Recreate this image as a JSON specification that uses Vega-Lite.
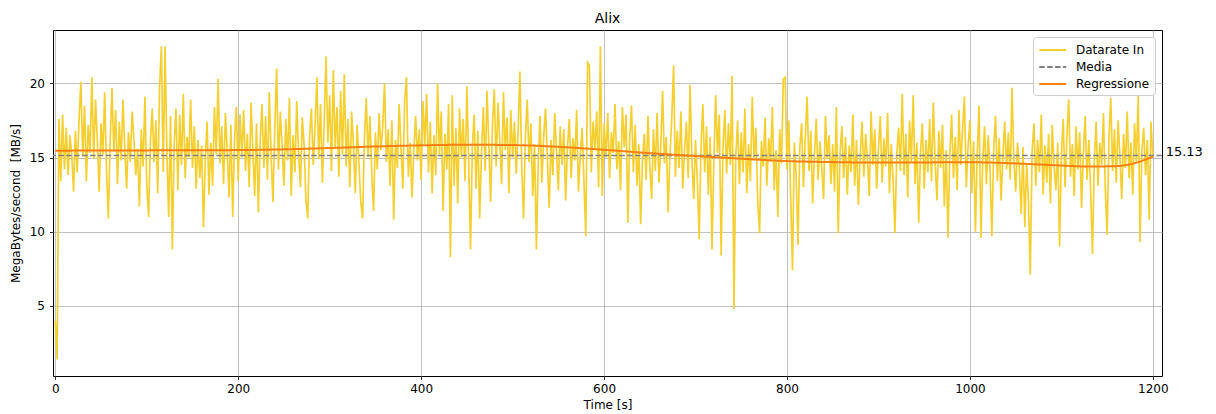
{
  "$schema": "https://vega.github.io/schema/vega-lite/v6.json",
  "autosize": {"type": "none"},
  "padding": {"left": 53, "top": 30, "right": 54, "bottom": 38},
  "width": 1109,
  "height": 346,
  "title": {"text": "Alix", "fontSize": 14, "fontWeight": "normal", "font": "DejaVu Sans", "color": "#000", "offset": 4, "anchor": "middle"},
  "datasets": {
    "rate": [
      {"s":"Datarate In","t":0,"v":4.0},{"s":"Datarate In","t":2,"v":1.4},{"s":"Datarate In","t":4,"v":17.6},{"s":"Datarate In","t":6,"v":13.4},{"s":"Datarate In","t":8,"v":17.9},{"s":"Datarate In","t":10,"v":14.2},{"s":"Datarate In","t":12,"v":17.0},{"s":"Datarate In","t":14,"v":13.8},{"s":"Datarate In","t":16,"v":16.5},{"s":"Datarate In","t":18,"v":15.2},{"s":"Datarate In","t":20,"v":12.7},{"s":"Datarate In","t":22,"v":16.8},{"s":"Datarate In","t":24,"v":14.0},{"s":"Datarate In","t":26,"v":17.6},{"s":"Datarate In","t":28,"v":20.1},{"s":"Datarate In","t":30,"v":15.1},{"s":"Datarate In","t":32,"v":18.5},{"s":"Datarate In","t":34,"v":13.4},{"s":"Datarate In","t":36,"v":17.2},{"s":"Datarate In","t":38,"v":15.3},{"s":"Datarate In","t":40,"v":20.4},{"s":"Datarate In","t":42,"v":14.9},{"s":"Datarate In","t":44,"v":18.9},{"s":"Datarate In","t":46,"v":16.1},{"s":"Datarate In","t":48,"v":12.7},
      {"s":"Datarate In","t":50,"v":17.3},{"s":"Datarate In","t":52,"v":15.2},{"s":"Datarate In","t":54,"v":19.4},{"s":"Datarate In","t":56,"v":14.1},{"s":"Datarate In","t":58,"v":10.9},{"s":"Datarate In","t":60,"v":16.0},{"s":"Datarate In","t":62,"v":19.7},{"s":"Datarate In","t":64,"v":15.4},{"s":"Datarate In","t":66,"v":18.2},{"s":"Datarate In","t":68,"v":13.2},{"s":"Datarate In","t":70,"v":17.4},{"s":"Datarate In","t":72,"v":14.8},{"s":"Datarate In","t":74,"v":18.9},{"s":"Datarate In","t":76,"v":15.5},{"s":"Datarate In","t":78,"v":12.9},{"s":"Datarate In","t":80,"v":16.7},{"s":"Datarate In","t":82,"v":14.7},{"s":"Datarate In","t":84,"v":18.1},{"s":"Datarate In","t":86,"v":16.2},{"s":"Datarate In","t":88,"v":13.8},{"s":"Datarate In","t":90,"v":15.6},{"s":"Datarate In","t":92,"v":11.7},{"s":"Datarate In","t":94,"v":16.9},{"s":"Datarate In","t":96,"v":14.4},{"s":"Datarate In","t":98,"v":19.1},
      {"s":"Datarate In","t":100,"v":13.2},{"s":"Datarate In","t":102,"v":11.0},{"s":"Datarate In","t":104,"v":16.1},{"s":"Datarate In","t":106,"v":18.3},{"s":"Datarate In","t":108,"v":14.7},{"s":"Datarate In","t":110,"v":17.5},{"s":"Datarate In","t":112,"v":12.6},{"s":"Datarate In","t":114,"v":19.7},{"s":"Datarate In","t":116,"v":22.5},{"s":"Datarate In","t":118,"v":14.0},{"s":"Datarate In","t":120,"v":22.5},{"s":"Datarate In","t":122,"v":15.4},{"s":"Datarate In","t":124,"v":11.0},{"s":"Datarate In","t":126,"v":17.8},{"s":"Datarate In","t":128,"v":8.8},{"s":"Datarate In","t":130,"v":15.9},{"s":"Datarate In","t":132,"v":18.3},{"s":"Datarate In","t":134,"v":12.8},{"s":"Datarate In","t":136,"v":17.9},{"s":"Datarate In","t":138,"v":14.5},{"s":"Datarate In","t":140,"v":19.3},{"s":"Datarate In","t":142,"v":13.6},{"s":"Datarate In","t":144,"v":16.4},{"s":"Datarate In","t":146,"v":15.0},{"s":"Datarate In","t":148,"v":18.9},
      {"s":"Datarate In","t":150,"v":14.3},{"s":"Datarate In","t":152,"v":17.1},{"s":"Datarate In","t":154,"v":12.9},{"s":"Datarate In","t":156,"v":16.2},{"s":"Datarate In","t":158,"v":13.6},{"s":"Datarate In","t":160,"v":15.8},{"s":"Datarate In","t":162,"v":10.3},{"s":"Datarate In","t":164,"v":14.9},{"s":"Datarate In","t":166,"v":17.4},{"s":"Datarate In","t":168,"v":12.5},{"s":"Datarate In","t":170,"v":16.0},{"s":"Datarate In","t":172,"v":13.1},{"s":"Datarate In","t":174,"v":18.4},{"s":"Datarate In","t":176,"v":15.2},{"s":"Datarate In","t":178,"v":20.3},{"s":"Datarate In","t":180,"v":14.6},{"s":"Datarate In","t":182,"v":17.1},{"s":"Datarate In","t":184,"v":13.2},{"s":"Datarate In","t":186,"v":18.0},{"s":"Datarate In","t":188,"v":15.4},{"s":"Datarate In","t":190,"v":12.3},{"s":"Datarate In","t":192,"v":17.2},{"s":"Datarate In","t":194,"v":11.0},{"s":"Datarate In","t":196,"v":16.3},{"s":"Datarate In","t":198,"v":18.4},
      {"s":"Datarate In","t":200,"v":13.4},{"s":"Datarate In","t":202,"v":17.9},{"s":"Datarate In","t":204,"v":15.0},{"s":"Datarate In","t":206,"v":18.2},{"s":"Datarate In","t":208,"v":14.1},{"s":"Datarate In","t":210,"v":16.6},{"s":"Datarate In","t":212,"v":13.0},{"s":"Datarate In","t":214,"v":18.7},{"s":"Datarate In","t":216,"v":15.5},{"s":"Datarate In","t":218,"v":12.4},{"s":"Datarate In","t":220,"v":17.3},{"s":"Datarate In","t":222,"v":11.3},{"s":"Datarate In","t":224,"v":16.1},{"s":"Datarate In","t":226,"v":18.6},{"s":"Datarate In","t":228,"v":14.3},{"s":"Datarate In","t":230,"v":17.8},{"s":"Datarate In","t":232,"v":13.5},{"s":"Datarate In","t":234,"v":19.4},{"s":"Datarate In","t":236,"v":15.1},{"s":"Datarate In","t":238,"v":12.0},{"s":"Datarate In","t":240,"v":17.0},{"s":"Datarate In","t":242,"v":21.0},{"s":"Datarate In","t":244,"v":14.2},{"s":"Datarate In","t":246,"v":18.1},{"s":"Datarate In","t":248,"v":15.7},
      {"s":"Datarate In","t":250,"v":13.1},{"s":"Datarate In","t":252,"v":17.6},{"s":"Datarate In","t":254,"v":14.8},{"s":"Datarate In","t":256,"v":19.0},{"s":"Datarate In","t":258,"v":12.4},{"s":"Datarate In","t":260,"v":16.5},{"s":"Datarate In","t":262,"v":14.0},{"s":"Datarate In","t":264,"v":18.8},{"s":"Datarate In","t":266,"v":15.3},{"s":"Datarate In","t":268,"v":13.0},{"s":"Datarate In","t":270,"v":17.7},{"s":"Datarate In","t":272,"v":15.9},{"s":"Datarate In","t":274,"v":12.2},{"s":"Datarate In","t":276,"v":10.9},{"s":"Datarate In","t":278,"v":16.4},{"s":"Datarate In","t":280,"v":18.3},{"s":"Datarate In","t":282,"v":14.5},{"s":"Datarate In","t":284,"v":17.1},{"s":"Datarate In","t":286,"v":20.4},{"s":"Datarate In","t":288,"v":14.9},{"s":"Datarate In","t":290,"v":18.6},{"s":"Datarate In","t":292,"v":13.3},{"s":"Datarate In","t":294,"v":17.4},{"s":"Datarate In","t":296,"v":21.8},{"s":"Datarate In","t":298,"v":16.0},
      {"s":"Datarate In","t":300,"v":19.2},{"s":"Datarate In","t":302,"v":14.1},{"s":"Datarate In","t":304,"v":20.9},{"s":"Datarate In","t":306,"v":15.6},{"s":"Datarate In","t":308,"v":18.4},{"s":"Datarate In","t":310,"v":13.7},{"s":"Datarate In","t":312,"v":19.5},{"s":"Datarate In","t":314,"v":15.2},{"s":"Datarate In","t":316,"v":20.6},{"s":"Datarate In","t":318,"v":14.4},{"s":"Datarate In","t":320,"v":17.6},{"s":"Datarate In","t":322,"v":13.0},{"s":"Datarate In","t":324,"v":18.1},{"s":"Datarate In","t":326,"v":15.8},{"s":"Datarate In","t":328,"v":12.6},{"s":"Datarate In","t":330,"v":17.2},{"s":"Datarate In","t":332,"v":14.6},{"s":"Datarate In","t":334,"v":12.0},{"s":"Datarate In","t":336,"v":10.9},{"s":"Datarate In","t":338,"v":16.3},{"s":"Datarate In","t":340,"v":19.0},{"s":"Datarate In","t":342,"v":15.0},{"s":"Datarate In","t":344,"v":17.8},{"s":"Datarate In","t":346,"v":13.9},{"s":"Datarate In","t":348,"v":11.4},
      {"s":"Datarate In","t":350,"v":16.7},{"s":"Datarate In","t":352,"v":14.2},{"s":"Datarate In","t":354,"v":18.0},{"s":"Datarate In","t":356,"v":15.5},{"s":"Datarate In","t":358,"v":17.1},{"s":"Datarate In","t":360,"v":20.0},{"s":"Datarate In","t":362,"v":14.7},{"s":"Datarate In","t":364,"v":16.9},{"s":"Datarate In","t":366,"v":13.1},{"s":"Datarate In","t":368,"v":17.5},{"s":"Datarate In","t":370,"v":10.8},{"s":"Datarate In","t":372,"v":16.2},{"s":"Datarate In","t":374,"v":14.3},{"s":"Datarate In","t":376,"v":18.6},{"s":"Datarate In","t":378,"v":15.6},{"s":"Datarate In","t":380,"v":12.9},{"s":"Datarate In","t":382,"v":18.9},{"s":"Datarate In","t":384,"v":20.4},{"s":"Datarate In","t":386,"v":13.7},{"s":"Datarate In","t":388,"v":16.0},{"s":"Datarate In","t":390,"v":12.3},{"s":"Datarate In","t":392,"v":15.4},{"s":"Datarate In","t":394,"v":17.8},{"s":"Datarate In","t":396,"v":14.8},{"s":"Datarate In","t":398,"v":16.9},
      {"s":"Datarate In","t":400,"v":13.5},{"s":"Datarate In","t":402,"v":18.8},{"s":"Datarate In","t":404,"v":15.9},{"s":"Datarate In","t":406,"v":19.3},{"s":"Datarate In","t":408,"v":14.0},{"s":"Datarate In","t":410,"v":17.4},{"s":"Datarate In","t":412,"v":12.6},{"s":"Datarate In","t":414,"v":16.5},{"s":"Datarate In","t":416,"v":13.8},{"s":"Datarate In","t":418,"v":20.0},{"s":"Datarate In","t":420,"v":15.2},{"s":"Datarate In","t":422,"v":18.1},{"s":"Datarate In","t":424,"v":11.4},{"s":"Datarate In","t":426,"v":16.6},{"s":"Datarate In","t":428,"v":14.2},{"s":"Datarate In","t":430,"v":18.6},{"s":"Datarate In","t":432,"v":8.3},{"s":"Datarate In","t":434,"v":19.2},{"s":"Datarate In","t":436,"v":13.1},{"s":"Datarate In","t":438,"v":17.0},{"s":"Datarate In","t":440,"v":11.9},{"s":"Datarate In","t":442,"v":18.3},{"s":"Datarate In","t":444,"v":15.0},{"s":"Datarate In","t":446,"v":17.6},{"s":"Datarate In","t":448,"v":13.4},
      {"s":"Datarate In","t":450,"v":19.8},{"s":"Datarate In","t":452,"v":14.6},{"s":"Datarate In","t":454,"v":8.8},{"s":"Datarate In","t":456,"v":15.7},{"s":"Datarate In","t":458,"v":17.9},{"s":"Datarate In","t":460,"v":12.9},{"s":"Datarate In","t":462,"v":16.8},{"s":"Datarate In","t":464,"v":10.9},{"s":"Datarate In","t":466,"v":15.3},{"s":"Datarate In","t":468,"v":18.4},{"s":"Datarate In","t":470,"v":14.1},{"s":"Datarate In","t":472,"v":19.5},{"s":"Datarate In","t":474,"v":15.8},{"s":"Datarate In","t":476,"v":12.0},{"s":"Datarate In","t":478,"v":17.3},{"s":"Datarate In","t":480,"v":19.6},{"s":"Datarate In","t":482,"v":14.4},{"s":"Datarate In","t":484,"v":18.7},{"s":"Datarate In","t":486,"v":16.1},{"s":"Datarate In","t":488,"v":13.2},{"s":"Datarate In","t":490,"v":19.4},{"s":"Datarate In","t":492,"v":15.5},{"s":"Datarate In","t":494,"v":17.7},{"s":"Datarate In","t":496,"v":12.6},{"s":"Datarate In","t":498,"v":18.2},
      {"s":"Datarate In","t":500,"v":15.0},{"s":"Datarate In","t":502,"v":17.4},{"s":"Datarate In","t":504,"v":13.9},{"s":"Datarate In","t":506,"v":16.8},{"s":"Datarate In","t":508,"v":20.8},{"s":"Datarate In","t":510,"v":14.3},{"s":"Datarate In","t":512,"v":10.9},{"s":"Datarate In","t":514,"v":16.5},{"s":"Datarate In","t":516,"v":18.9},{"s":"Datarate In","t":518,"v":14.7},{"s":"Datarate In","t":520,"v":17.3},{"s":"Datarate In","t":522,"v":12.4},{"s":"Datarate In","t":524,"v":15.9},{"s":"Datarate In","t":526,"v":8.8},{"s":"Datarate In","t":528,"v":14.6},{"s":"Datarate In","t":530,"v":17.8},{"s":"Datarate In","t":532,"v":13.3},{"s":"Datarate In","t":534,"v":16.4},{"s":"Datarate In","t":536,"v":18.3},{"s":"Datarate In","t":538,"v":14.9},{"s":"Datarate In","t":540,"v":11.6},{"s":"Datarate In","t":542,"v":16.2},{"s":"Datarate In","t":544,"v":13.8},{"s":"Datarate In","t":546,"v":18.0},{"s":"Datarate In","t":548,"v":15.4},
      {"s":"Datarate In","t":550,"v":12.8},{"s":"Datarate In","t":552,"v":17.1},{"s":"Datarate In","t":554,"v":14.5},{"s":"Datarate In","t":556,"v":16.9},{"s":"Datarate In","t":558,"v":12.1},{"s":"Datarate In","t":560,"v":15.7},{"s":"Datarate In","t":562,"v":17.6},{"s":"Datarate In","t":564,"v":13.6},{"s":"Datarate In","t":566,"v":16.3},{"s":"Datarate In","t":568,"v":14.8},{"s":"Datarate In","t":570,"v":18.2},{"s":"Datarate In","t":572,"v":12.7},{"s":"Datarate In","t":574,"v":15.2},{"s":"Datarate In","t":576,"v":17.0},{"s":"Datarate In","t":578,"v":13.4},{"s":"Datarate In","t":580,"v":9.7},{"s":"Datarate In","t":582,"v":21.4},{"s":"Datarate In","t":584,"v":21.2},{"s":"Datarate In","t":586,"v":14.0},{"s":"Datarate In","t":588,"v":17.4},{"s":"Datarate In","t":590,"v":15.6},{"s":"Datarate In","t":592,"v":18.1},{"s":"Datarate In","t":594,"v":13.0},{"s":"Datarate In","t":596,"v":22.5},{"s":"Datarate In","t":598,"v":12.4},
      {"s":"Datarate In","t":600,"v":17.3},{"s":"Datarate In","t":602,"v":15.0},{"s":"Datarate In","t":604,"v":18.0},{"s":"Datarate In","t":606,"v":13.6},{"s":"Datarate In","t":608,"v":16.7},{"s":"Datarate In","t":610,"v":15.3},{"s":"Datarate In","t":612,"v":18.6},{"s":"Datarate In","t":614,"v":14.2},{"s":"Datarate In","t":616,"v":16.1},{"s":"Datarate In","t":618,"v":12.8},{"s":"Datarate In","t":620,"v":18.4},{"s":"Datarate In","t":622,"v":15.7},{"s":"Datarate In","t":624,"v":17.9},{"s":"Datarate In","t":626,"v":10.6},{"s":"Datarate In","t":628,"v":16.3},{"s":"Datarate In","t":630,"v":18.5},{"s":"Datarate In","t":632,"v":14.0},{"s":"Datarate In","t":634,"v":17.2},{"s":"Datarate In","t":636,"v":13.1},{"s":"Datarate In","t":638,"v":15.9},{"s":"Datarate In","t":640,"v":10.5},{"s":"Datarate In","t":642,"v":14.8},{"s":"Datarate In","t":644,"v":16.6},{"s":"Datarate In","t":646,"v":13.5},{"s":"Datarate In","t":648,"v":17.8},
      {"s":"Datarate In","t":650,"v":14.4},{"s":"Datarate In","t":652,"v":12.2},{"s":"Datarate In","t":654,"v":16.9},{"s":"Datarate In","t":656,"v":14.1},{"s":"Datarate In","t":658,"v":18.0},{"s":"Datarate In","t":660,"v":13.3},{"s":"Datarate In","t":662,"v":15.8},{"s":"Datarate In","t":664,"v":19.5},{"s":"Datarate In","t":666,"v":14.6},{"s":"Datarate In","t":668,"v":16.4},{"s":"Datarate In","t":670,"v":11.3},{"s":"Datarate In","t":672,"v":15.1},{"s":"Datarate In","t":674,"v":17.6},{"s":"Datarate In","t":676,"v":21.2},{"s":"Datarate In","t":678,"v":13.7},{"s":"Datarate In","t":680,"v":16.8},{"s":"Datarate In","t":682,"v":14.3},{"s":"Datarate In","t":684,"v":18.1},{"s":"Datarate In","t":686,"v":12.9},{"s":"Datarate In","t":688,"v":15.5},{"s":"Datarate In","t":690,"v":17.4},{"s":"Datarate In","t":692,"v":13.6},{"s":"Datarate In","t":694,"v":19.9},{"s":"Datarate In","t":696,"v":14.9},{"s":"Datarate In","t":698,"v":12.2},
      {"s":"Datarate In","t":700,"v":16.2},{"s":"Datarate In","t":702,"v":13.4},{"s":"Datarate In","t":704,"v":9.5},{"s":"Datarate In","t":706,"v":15.8},{"s":"Datarate In","t":708,"v":18.6},{"s":"Datarate In","t":710,"v":14.0},{"s":"Datarate In","t":712,"v":17.1},{"s":"Datarate In","t":714,"v":12.5},{"s":"Datarate In","t":716,"v":16.4},{"s":"Datarate In","t":718,"v":8.8},{"s":"Datarate In","t":720,"v":14.7},{"s":"Datarate In","t":722,"v":19.2},{"s":"Datarate In","t":724,"v":15.3},{"s":"Datarate In","t":726,"v":17.9},{"s":"Datarate In","t":728,"v":8.4},{"s":"Datarate In","t":730,"v":15.6},{"s":"Datarate In","t":732,"v":18.2},{"s":"Datarate In","t":734,"v":13.9},{"s":"Datarate In","t":736,"v":17.3},{"s":"Datarate In","t":738,"v":14.5},{"s":"Datarate In","t":740,"v":20.5},{"s":"Datarate In","t":742,"v":4.8},{"s":"Datarate In","t":744,"v":15.1},{"s":"Datarate In","t":746,"v":17.5},{"s":"Datarate In","t":748,"v":13.2},
      {"s":"Datarate In","t":750,"v":16.7},{"s":"Datarate In","t":752,"v":14.0},{"s":"Datarate In","t":754,"v":18.3},{"s":"Datarate In","t":756,"v":12.6},{"s":"Datarate In","t":758,"v":15.9},{"s":"Datarate In","t":760,"v":13.4},{"s":"Datarate In","t":762,"v":19.1},{"s":"Datarate In","t":764,"v":14.8},{"s":"Datarate In","t":766,"v":17.0},{"s":"Datarate In","t":768,"v":12.0},{"s":"Datarate In","t":770,"v":9.9},{"s":"Datarate In","t":772,"v":16.1},{"s":"Datarate In","t":774,"v":14.4},{"s":"Datarate In","t":776,"v":17.7},{"s":"Datarate In","t":778,"v":13.1},{"s":"Datarate In","t":780,"v":16.3},{"s":"Datarate In","t":782,"v":14.7},{"s":"Datarate In","t":784,"v":18.4},{"s":"Datarate In","t":786,"v":12.8},{"s":"Datarate In","t":788,"v":15.5},{"s":"Datarate In","t":790,"v":11.0},{"s":"Datarate In","t":792,"v":16.9},{"s":"Datarate In","t":794,"v":14.6},{"s":"Datarate In","t":796,"v":20.3},{"s":"Datarate In","t":798,"v":20.4},
      {"s":"Datarate In","t":800,"v":14.2},{"s":"Datarate In","t":802,"v":17.5},{"s":"Datarate In","t":804,"v":12.4},{"s":"Datarate In","t":806,"v":7.4},{"s":"Datarate In","t":808,"v":16.0},{"s":"Datarate In","t":810,"v":13.8},{"s":"Datarate In","t":812,"v":9.1},{"s":"Datarate In","t":814,"v":15.7},{"s":"Datarate In","t":816,"v":17.3},{"s":"Datarate In","t":818,"v":13.0},{"s":"Datarate In","t":820,"v":16.4},{"s":"Datarate In","t":822,"v":19.1},{"s":"Datarate In","t":824,"v":14.1},{"s":"Datarate In","t":826,"v":16.8},{"s":"Datarate In","t":828,"v":11.9},{"s":"Datarate In","t":830,"v":15.2},{"s":"Datarate In","t":832,"v":17.6},{"s":"Datarate In","t":834,"v":13.5},{"s":"Datarate In","t":836,"v":16.1},{"s":"Datarate In","t":838,"v":14.3},{"s":"Datarate In","t":840,"v":12.2},{"s":"Datarate In","t":842,"v":17.8},{"s":"Datarate In","t":844,"v":14.9},{"s":"Datarate In","t":846,"v":16.5},{"s":"Datarate In","t":848,"v":13.2},
      {"s":"Datarate In","t":850,"v":15.9},{"s":"Datarate In","t":852,"v":12.7},{"s":"Datarate In","t":854,"v":18.4},{"s":"Datarate In","t":856,"v":9.9},{"s":"Datarate In","t":858,"v":15.3},{"s":"Datarate In","t":860,"v":17.1},{"s":"Datarate In","t":862,"v":13.6},{"s":"Datarate In","t":864,"v":16.4},{"s":"Datarate In","t":866,"v":12.5},{"s":"Datarate In","t":868,"v":15.8},{"s":"Datarate In","t":870,"v":14.0},{"s":"Datarate In","t":872,"v":17.9},{"s":"Datarate In","t":874,"v":13.1},{"s":"Datarate In","t":876,"v":16.2},{"s":"Datarate In","t":878,"v":11.8},{"s":"Datarate In","t":880,"v":15.0},{"s":"Datarate In","t":882,"v":17.4},{"s":"Datarate In","t":884,"v":13.7},{"s":"Datarate In","t":886,"v":16.6},{"s":"Datarate In","t":888,"v":14.8},{"s":"Datarate In","t":890,"v":12.4},{"s":"Datarate In","t":892,"v":18.1},{"s":"Datarate In","t":894,"v":14.5},{"s":"Datarate In","t":896,"v":16.9},{"s":"Datarate In","t":898,"v":12.9},
      {"s":"Datarate In","t":900,"v":15.6},{"s":"Datarate In","t":902,"v":17.8},{"s":"Datarate In","t":904,"v":13.3},{"s":"Datarate In","t":906,"v":16.3},{"s":"Datarate In","t":908,"v":14.4},{"s":"Datarate In","t":910,"v":18.0},{"s":"Datarate In","t":912,"v":12.6},{"s":"Datarate In","t":914,"v":15.9},{"s":"Datarate In","t":916,"v":13.5},{"s":"Datarate In","t":918,"v":9.9},{"s":"Datarate In","t":920,"v":15.2},{"s":"Datarate In","t":922,"v":17.0},{"s":"Datarate In","t":924,"v":14.1},{"s":"Datarate In","t":926,"v":19.3},{"s":"Datarate In","t":928,"v":13.8},{"s":"Datarate In","t":930,"v":16.6},{"s":"Datarate In","t":932,"v":12.3},{"s":"Datarate In","t":934,"v":17.5},{"s":"Datarate In","t":936,"v":14.7},{"s":"Datarate In","t":938,"v":19.2},{"s":"Datarate In","t":940,"v":13.2},{"s":"Datarate In","t":942,"v":16.0},{"s":"Datarate In","t":944,"v":10.6},{"s":"Datarate In","t":946,"v":15.4},{"s":"Datarate In","t":948,"v":17.3},
      {"s":"Datarate In","t":950,"v":12.9},{"s":"Datarate In","t":952,"v":16.2},{"s":"Datarate In","t":954,"v":14.0},{"s":"Datarate In","t":956,"v":17.6},{"s":"Datarate In","t":958,"v":13.4},{"s":"Datarate In","t":960,"v":18.7},{"s":"Datarate In","t":962,"v":14.6},{"s":"Datarate In","t":964,"v":12.1},{"s":"Datarate In","t":966,"v":16.8},{"s":"Datarate In","t":968,"v":14.3},{"s":"Datarate In","t":970,"v":17.2},{"s":"Datarate In","t":972,"v":11.7},{"s":"Datarate In","t":974,"v":15.5},{"s":"Datarate In","t":976,"v":9.6},{"s":"Datarate In","t":978,"v":15.1},{"s":"Datarate In","t":980,"v":17.9},{"s":"Datarate In","t":982,"v":13.6},{"s":"Datarate In","t":984,"v":16.4},{"s":"Datarate In","t":986,"v":12.8},{"s":"Datarate In","t":988,"v":18.2},{"s":"Datarate In","t":990,"v":14.5},{"s":"Datarate In","t":992,"v":16.9},{"s":"Datarate In","t":994,"v":19.1},{"s":"Datarate In","t":996,"v":13.0},{"s":"Datarate In","t":998,"v":15.8},
      {"s":"Datarate In","t":1000,"v":17.5},{"s":"Datarate In","t":1002,"v":12.6},{"s":"Datarate In","t":1004,"v":16.1},{"s":"Datarate In","t":1006,"v":10.0},{"s":"Datarate In","t":1008,"v":15.3},{"s":"Datarate In","t":1010,"v":18.5},{"s":"Datarate In","t":1012,"v":9.6},{"s":"Datarate In","t":1014,"v":14.8},{"s":"Datarate In","t":1016,"v":17.1},{"s":"Datarate In","t":1018,"v":13.2},{"s":"Datarate In","t":1020,"v":16.5},{"s":"Datarate In","t":1022,"v":14.1},{"s":"Datarate In","t":1024,"v":9.7},{"s":"Datarate In","t":1026,"v":15.6},{"s":"Datarate In","t":1028,"v":17.8},{"s":"Datarate In","t":1030,"v":13.4},{"s":"Datarate In","t":1032,"v":16.3},{"s":"Datarate In","t":1034,"v":12.1},{"s":"Datarate In","t":1036,"v":15.0},{"s":"Datarate In","t":1038,"v":17.4},{"s":"Datarate In","t":1040,"v":14.2},{"s":"Datarate In","t":1042,"v":16.7},{"s":"Datarate In","t":1044,"v":13.5},{"s":"Datarate In","t":1046,"v":19.7},{"s":"Datarate In","t":1048,"v":14.9},
      {"s":"Datarate In","t":1050,"v":12.7},{"s":"Datarate In","t":1052,"v":16.0},{"s":"Datarate In","t":1054,"v":14.3},{"s":"Datarate In","t":1056,"v":11.2},{"s":"Datarate In","t":1058,"v":15.7},{"s":"Datarate In","t":1060,"v":10.3},{"s":"Datarate In","t":1062,"v":14.6},{"s":"Datarate In","t":1064,"v":12.0},{"s":"Datarate In","t":1066,"v":7.1},{"s":"Datarate In","t":1068,"v":15.4},{"s":"Datarate In","t":1070,"v":17.3},{"s":"Datarate In","t":1072,"v":13.1},{"s":"Datarate In","t":1074,"v":16.2},{"s":"Datarate In","t":1076,"v":14.0},{"s":"Datarate In","t":1078,"v":17.9},{"s":"Datarate In","t":1080,"v":12.5},{"s":"Datarate In","t":1082,"v":15.8},{"s":"Datarate In","t":1084,"v":13.3},{"s":"Datarate In","t":1086,"v":16.6},{"s":"Datarate In","t":1088,"v":11.9},{"s":"Datarate In","t":1090,"v":17.2},{"s":"Datarate In","t":1092,"v":14.4},{"s":"Datarate In","t":1094,"v":12.8},{"s":"Datarate In","t":1096,"v":16.0},{"s":"Datarate In","t":1098,"v":9.0},
      {"s":"Datarate In","t":1100,"v":15.2},{"s":"Datarate In","t":1102,"v":17.6},{"s":"Datarate In","t":1104,"v":13.0},{"s":"Datarate In","t":1106,"v":16.4},{"s":"Datarate In","t":1108,"v":18.9},{"s":"Datarate In","t":1110,"v":13.7},{"s":"Datarate In","t":1112,"v":15.9},{"s":"Datarate In","t":1114,"v":12.4},{"s":"Datarate In","t":1116,"v":17.1},{"s":"Datarate In","t":1118,"v":14.2},{"s":"Datarate In","t":1120,"v":16.7},{"s":"Datarate In","t":1122,"v":11.6},{"s":"Datarate In","t":1124,"v":15.3},{"s":"Datarate In","t":1126,"v":17.8},{"s":"Datarate In","t":1128,"v":13.5},{"s":"Datarate In","t":1130,"v":16.2},{"s":"Datarate In","t":1132,"v":12.7},{"s":"Datarate In","t":1134,"v":8.5},{"s":"Datarate In","t":1136,"v":14.8},{"s":"Datarate In","t":1138,"v":17.4},{"s":"Datarate In","t":1140,"v":13.1},{"s":"Datarate In","t":1142,"v":16.0},{"s":"Datarate In","t":1144,"v":14.5},{"s":"Datarate In","t":1146,"v":18.0},{"s":"Datarate In","t":1148,"v":12.9},
      {"s":"Datarate In","t":1150,"v":9.8},{"s":"Datarate In","t":1152,"v":16.3},{"s":"Datarate In","t":1154,"v":19.0},{"s":"Datarate In","t":1156,"v":14.1},{"s":"Datarate In","t":1158,"v":16.9},{"s":"Datarate In","t":1160,"v":13.3},{"s":"Datarate In","t":1162,"v":17.5},{"s":"Datarate In","t":1164,"v":15.0},{"s":"Datarate In","t":1166,"v":12.2},{"s":"Datarate In","t":1168,"v":16.6},{"s":"Datarate In","t":1170,"v":14.3},{"s":"Datarate In","t":1172,"v":18.1},{"s":"Datarate In","t":1174,"v":13.6},{"s":"Datarate In","t":1176,"v":16.0},{"s":"Datarate In","t":1178,"v":12.5},{"s":"Datarate In","t":1180,"v":17.3},{"s":"Datarate In","t":1182,"v":14.7},{"s":"Datarate In","t":1184,"v":19.2},{"s":"Datarate In","t":1186,"v":9.3},{"s":"Datarate In","t":1188,"v":15.4},{"s":"Datarate In","t":1190,"v":17.0},{"s":"Datarate In","t":1192,"v":13.8},{"s":"Datarate In","t":1194,"v":16.2},{"s":"Datarate In","t":1196,"v":10.8},{"s":"Datarate In","t":1198,"v":17.4},{"s":"Datarate In","t":1200,"v":15.0}
    ],
    "mean": [{"s": "Media", "v": 15.13, "label": "15.13", "tx": 1214}],
    "reg": [
      {"s":"Regressione","t":0,"v":15.46},{"s":"Regressione","t":100,"v":15.48},{"s":"Regressione","t":200,"v":15.5},{"s":"Regressione","t":250,"v":15.55},{"s":"Regressione","t":300,"v":15.64},{"s":"Regressione","t":350,"v":15.74},{"s":"Regressione","t":400,"v":15.82},{"s":"Regressione","t":450,"v":15.86},{"s":"Regressione","t":500,"v":15.84},{"s":"Regressione","t":550,"v":15.72},{"s":"Regressione","t":600,"v":15.52},{"s":"Regressione","t":650,"v":15.29},{"s":"Regressione","t":700,"v":15.1},{"s":"Regressione","t":750,"v":14.92},{"s":"Regressione","t":800,"v":14.76},{"s":"Regressione","t":850,"v":14.69},{"s":"Regressione","t":900,"v":14.66},{"s":"Regressione","t":950,"v":14.67},{"s":"Regressione","t":1000,"v":14.68},{"s":"Regressione","t":1050,"v":14.6},{"s":"Regressione","t":1100,"v":14.46},{"s":"Regressione","t":1130,"v":14.39},{"s":"Regressione","t":1160,"v":14.42},{"s":"Regressione","t":1180,"v":14.62},{"s":"Regressione","t":1200,"v":15.06}
    ]
  },
  "encoding": {
    "x": {"field": "t", "type": "quantitative", "title": "Time [s]",
      "scale": {"domain": [-2.5, 1210], "nice": false, "zero": false},
      "axis": {"values": [0, 200, 400, 600, 800, 1000, 1200], "format": "d", "titlePadding": 5}},
    "y": {"field": "v", "type": "quantitative", "title": "MegaBytes/second\u00a0 [MB/s]",
      "scale": {"domain": [0.28, 23.59], "nice": false, "zero": false},
      "axis": {"values": [5, 10, 15, 20], "labelPadding": 5, "titlePadding": 7}}
  },
  "layer": [
    {
      "data": {"name": "rate"},
      "mark": {"type": "line", "strokeWidth": 1.7},
      "encoding": {
        "color": {"field": "s", "type": "nominal", "title": null,
          "scale": {"domain": ["Datarate In", "Media", "Regressione"], "range": ["#f5cf2f", "#808080", "#ff7f0e"]}},
        "strokeDash": {"field": "s", "type": "nominal", "title": null,
          "scale": {"domain": ["Datarate In", "Media", "Regressione"], "range": [[1, 0], [5.5, 2.4], [1, 0]]}}
      }
    },
    {
      "data": {"name": "mean"},
      "mark": {"type": "rule", "strokeWidth": 1.5},
      "encoding": {
        "x": null,
        "color": {"field": "s", "type": "nominal", "title": null},
        "strokeDash": {"field": "s", "type": "nominal", "title": null}
      }
    },
    {
      "data": {"name": "reg"},
      "mark": {"type": "line", "strokeWidth": 2, "interpolate": "monotone"},
      "encoding": {
        "color": {"field": "s", "type": "nominal", "title": null},
        "strokeDash": {"field": "s", "type": "nominal", "title": null}
      }
    },
    {
      "data": {"name": "mean"},
      "mark": {"type": "text", "align": "left", "baseline": "middle", "fontSize": 13, "font": "DejaVu Sans", "fill": "#000", "dy": -4, "clip": false},
      "encoding": {
        "x": {"field": "tx", "type": "quantitative"},
        "text": {"field": "label", "type": "nominal"}
      }
    }
  ],
  "config": {
    "font": "DejaVu Sans",
    "view": {"stroke": "#000", "strokeWidth": 1},
    "axis": {
      "grid": true, "gridColor": "#b0b0b0", "gridWidth": 0.8, "domain": false,
      "tickColor": "#000", "tickSize": 3.5, "tickWidth": 0.8,
      "labelFont": "DejaVu Sans", "labelFontSize": 12, "labelColor": "#000", "labelPadding": 3.5,
      "titleFont": "DejaVu Sans", "titleFontSize": 12, "titleFontWeight": "normal", "titleColor": "#000"
    },
    "legend": {
      "orient": "top-right", "offset": 7, "padding": 5, "rowPadding": 3,
      "fillColor": "rgba(255,255,255,0.8)", "strokeColor": "#cccccc", "cornerRadius": 3,
      "symbolType": "M-1,0H3", "symbolSize": 182, "symbolStrokeWidth": 1.8,
      "labelFont": "DejaVu Sans", "labelFontSize": 12, "labelColor": "#000", "labelOffset": 22,
      "zindex": 1
    }
  }
}
